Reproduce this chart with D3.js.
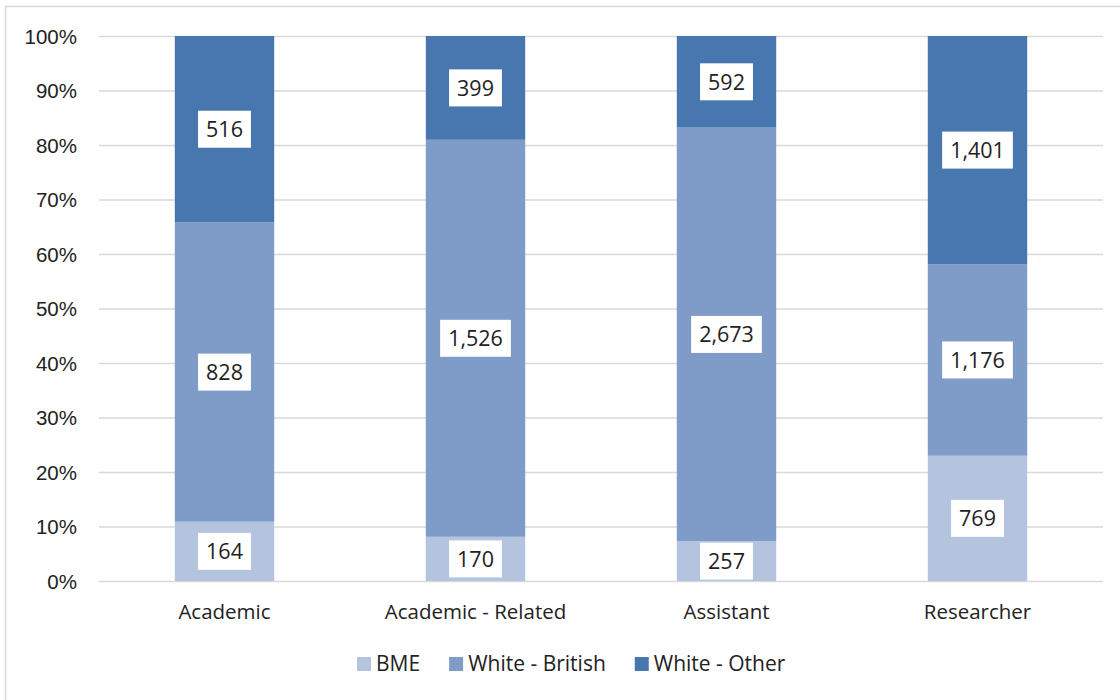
<!DOCTYPE html>
<html>
<head>
<meta charset="utf-8">
<script src="https://cdn.jsdelivr.net/npm/d3@7"></script>
<style>
  html, body { margin: 0; padding: 0; background: #fff; }
  svg { display: block; font-family: "Open Sans", "Noto Sans", sans-serif; }
</style>
</head>
<body>
<svg id="chart" width="1120" height="700"></svg>
<script>
// Staff counts by job family and ethnicity
const categories = ["Academic", "Academic - Related", "Assistant", "Researcher"];
const seriesNames = ["BME", "White - British", "White - Other"];
const bme = [164, 170, 257, 769];
const whiteBritish = [828, 1526, 2673, 1176];
const whiteOther = [516, 399, 592, 1401];
const yTicks = [0, 0.1, 0.2, 0.3, 0.4, 0.5, 0.6, 0.7, 0.8, 0.9, 1.0];
const colors = ["#b4c3de", "#7f9cc8", "#4877af"];

const rows = categories.map((c, i) => ({
  category: c,
  "BME": bme[i],
  "White - British": whiteBritish[i],
  "White - Other": whiteOther[i]
}));

const svg = d3.select("#chart");

// Outer frame
svg.append("rect")
  .attr("x", 5.5).attr("y", 6.5)
  .attr("width", 1130).attr("height", 720)
  .attr("fill", "#fff")
  .attr("stroke", "#d9d9d9").attr("stroke-width", 1.5);

const x = d3.scaleBand()
  .domain(categories)
  .range([99, 1103])
  .paddingInner(0.604)
  .paddingOuter(0.302);

const y = d3.scaleLinear().domain([0, 1]).range([581, 36]);

// Gridlines and percentage axis
const yAxis = d3.axisLeft(y)
  .tickValues(yTicks)
  .tickFormat(d3.format(".0%"))
  .tickSize(-(1103 - 99))
  .tickPadding(22);

const gy = svg.append("g").attr("transform", "translate(99,0)").call(yAxis);
gy.select(".domain").remove();
gy.selectAll(".tick line").attr("stroke", "#d9d9d9").attr("stroke-width", 1.5);
gy.selectAll(".tick text")
  .attr("fill", "#222")
  .style("font-size", "20.5px")
  .attr("dy", "0.35em");

// Stack into shares of each category's total
const stack = d3.stack()
  .keys(seriesNames)
  .offset(d3.stackOffsetExpand);
const layers = stack(rows);

const layerG = svg.append("g").selectAll("g")
  .data(layers)
  .join("g")
  .attr("fill", (d, i) => colors[i]);

layerG.selectAll("rect")
  .data(d => d)
  .join("rect")
  .attr("x", d => x(d.data.category))
  .attr("width", x.bandwidth())
  .attr("y", d => y(d[1]))
  .attr("height", d => y(d[0]) - y(d[1]));

// Value labels in white boxes
const fmt = d3.format(",");
const labelG = svg.append("g");
layers.forEach(layer => {
  layer.forEach(d => {
    const cx = x(d.data.category) + x.bandwidth() / 2;
    const cy = (y(d[0]) + y(d[1])) / 2;
    const g = labelG.append("g");
    const box = g.append("rect").attr("fill", "#fff");
    const t = g.append("text")
      .attr("x", cx).attr("y", cy)
      .attr("text-anchor", "middle")
      .attr("dy", "0.36em")
      .attr("fill", "#222")
      .style("font-size", "21.5px")
      .text(fmt(d.data[layer.key]));
    const w = t.node().getComputedTextLength();
    box.attr("x", cx - w / 2 - 8).attr("y", cy - 18.5)
      .attr("width", w + 16).attr("height", 37);
  });
});

// Category axis labels
svg.append("g").selectAll("text")
  .data(categories)
  .join("text")
  .attr("x", d => x(d) + x.bandwidth() / 2)
  .attr("y", 619)
  .attr("text-anchor", "middle")
  .attr("fill", "#222")
  .style("font-size", "20.5px")
  .text(d => d);

// Legend
const legend = svg.append("g").attr("transform", "translate(357,664)");
let lx = 0;
seriesNames.forEach((name, i) => {
  const g = legend.append("g").attr("transform", `translate(${lx},0)`);
  g.append("rect").attr("x", 0).attr("y", -7).attr("width", 14).attr("height", 14).attr("fill", colors[i]);
  const t = g.append("text").attr("x", 19).attr("y", 0).attr("dy", "0.35em")
    .attr("fill", "#222").style("font-size", "21px").text(name);
  lx += 19 + t.node().getComputedTextLength() + 29;
});
</script>
</body>
</html>
